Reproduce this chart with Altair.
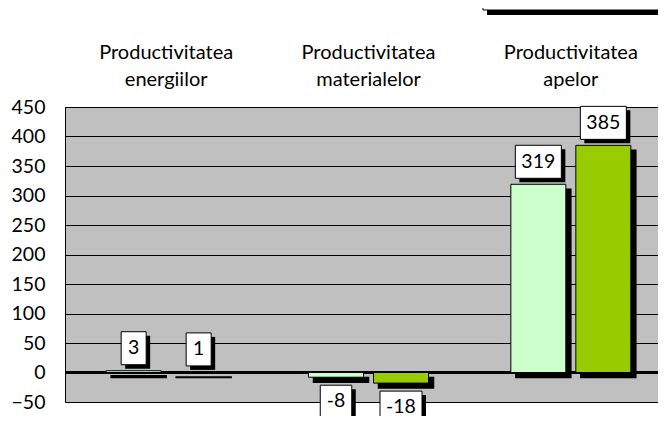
import altair as alt
import pandas as pd

# ---- data ----
categories = ["Productivitatea energiilor", "Productivitatea materialelor", "Productivitatea apelor"]
series_names = ["Seria 1", "Seria 2"]
values_series1 = [3, -8, 319]
values_series2 = [1, -18, 385]
y_ticks = [-50, 0, 50, 100, 150, 200, 250, 300, 350, 400, 450]

# ---- styling ----
series_colors = ["#CCFFCC", "#99CC00"]
series_offsets = [-32.5, 32.5]
FONT = "Lato"
BAR_W = 55

rows = []
for s, vals in zip(series_names, [values_series1, values_series2]):
    for c, v in zip(categories, vals):
        lab = str(v)
        rows.append({
            "cat": c, "series": s, "value": v, "label": lab,
            "nd": len(lab.replace("-", "")), "neg": 1 if v < 0 else 0,
        })
df = pd.DataFrame(rows)

Y_SCALE = alt.Scale(domain=[-50, 450], nice=False, zero=False)
Y_AXIS = alt.Axis(
    values=y_ticks, title=None, domain=False, ticks=False, tickSize=0,
    grid=True, gridColor="black", gridWidth=1,
    labelFont=FONT, labelFontSize=19.5, labelColor="black", labelPadding=20,
)
X = alt.X(
    "cat:N", sort=categories,
    scale=alt.Scale(paddingInner=0, paddingOuter=0, range=[0, 607]),
    axis=alt.Axis(
        orient="top", title=None, labelAngle=0, domain=False, ticks=False, tickSize=0,
        labelExpr="split(datum.label, ' ')", labelFont=FONT, labelFontSize=20,
        labelLineHeight=27, labelPadding=49, labelColor="black",
        labelBaseline="alphabetic",
    ),
)
Y = alt.Y("value:Q", scale=Y_SCALE, axis=Y_AXIS)

base = alt.Chart(df)
layers = []

# zero line
layers.append(
    alt.Chart(pd.DataFrame({"z": [0]})).mark_rule(color="black", strokeWidth=3)
    .encode(y=alt.Y("z:Q", scale=Y_SCALE, axis=Y_AXIS))
)

# bars with shadows
for s, col, off in zip(series_names, series_colors, series_offsets):
    filt = alt.datum.series == s
    layers.append(
        base.transform_filter(filt)
        .mark_bar(color="black", stroke="black", strokeWidth=1.5, width=BAR_W,
                  xOffset=off + 5, yOffset=5, y2Offset=5)
        .encode(x=X, y=Y, y2=alt.datum(0))
    )
    layers.append(
        base.transform_filter(filt)
        .mark_bar(fill=col, stroke="black", strokeWidth=1, width=BAR_W, xOffset=off)
        .encode(x=X, y=Y, y2=alt.datum(0))
    )

# label boxes
combos = sorted(set(zip(df["nd"], df["neg"])))
for s, off in zip(series_names, series_offsets):
    for nd, neg in combos:
        w = 14.5 + 10.5 * nd + 6.5 * neg
        yo, y2o = (8, 41) if neg else (-6, -39)
        filt = (alt.datum.series == s) & (alt.datum.nd == int(nd)) & (alt.datum.neg == int(neg))
        layers.append(
            base.transform_filter(filt)
            .mark_rect(color="black", width=w, xOffset=off + 4, yOffset=yo + 4, y2Offset=y2o + 4)
            .encode(x=X, y=Y, y2="value:Q")
        )
        layers.append(
            base.transform_filter(filt)
            .mark_rect(fill="white", stroke="black", strokeWidth=1, width=w,
                       xOffset=off, yOffset=yo, y2Offset=y2o)
            .encode(x=X, y=Y, y2="value:Q")
        )
    for neg in [0, 1]:
        dy = 23.5 if neg else -22.5
        layers.append(
            base.transform_filter((alt.datum.series == s) & (alt.datum.neg == neg))
            .mark_text(font=FONT, fontSize=19.5, color="black", baseline="middle",
                       align="center", xOffset=off, dy=dy)
            .encode(x=X, y=Y, text="label:N")
        )

# legend box (cropped at the top of the picture)
one = alt.Chart(pd.DataFrame({"a": [0]}))
layers.append(one.mark_rect(color="black").encode(
    x=alt.value(422), x2=alt.value(660), y=alt.value(-97), y2=alt.value(-92)))
layers.append(one.mark_rect(fill="white", stroke="black", strokeWidth=1).encode(
    x=alt.value(418), x2=alt.value(655), y=alt.value(-140), y2=alt.value(-97)))

chart = (
    alt.layer(*layers)
    .properties(
        width=593, height=295,
        autosize=alt.AutoSizeParams(type="none"),
        padding={"left": 57, "top": 99, "right": 0, "bottom": 14},
        background="white",
    )
    .configure_view(stroke="black", strokeWidth=1, fill="#C0C0C0")
)

chart.save("out.html", embed_options={"renderer": "svg", "actions": False})
